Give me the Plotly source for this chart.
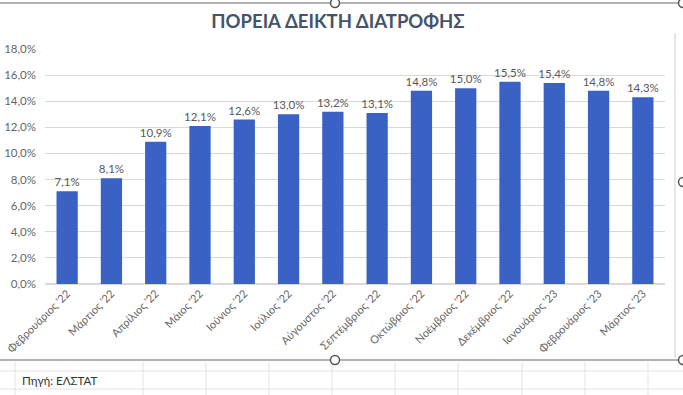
import plotly.graph_objects as go

categories = ["Φεβρουάριος '22", "Μάρτιος '22", "Απρίλιος '22", "Μάιος '22", "Ιούνιος '22",
              "Ιούλιος '22", "Αύγουστος '22", "Σεπτέμβριος '22", "Οκτώβριος '22", "Νοέμβριος '22",
              "Δεκέμβριος '22", "Ιανουάριος '23", "Φεβρουάριος '23", "Μάρτιος '23"]
values = [7.1, 8.1, 10.9, 12.1, 12.6, 13.0, 13.2, 13.1, 14.8, 15.0, 15.5, 15.4, 14.8, 14.3]
y_ticks = [0, 2, 4, 6, 8, 10, 12, 14, 16, 18]
y_ticktext = [f"{v:.1f}%".replace(".", ",") for v in y_ticks]

W, H = 683, 395
L, R, T, B = 45, 18, 49, 111
pw, ph = W - L - R, H - T - B

def px(x):
    return (x - L) / pw

def py(y):
    return (H - B - y) / ph

fig = go.Figure()
fig.add_trace(go.Bar(
    x=categories, y=values,
    marker=dict(color="#3a62c4", line=dict(width=0)),
    width=0.48,
    text=values,
    texttemplate="%{y:.1f}%",
    textposition="outside",
    constraintext="none",
    textfont=dict(family="Lato", size=11.5, color="#595959"),
    cliponaxis=False,
))

shapes = []
line_gray = "#9a9a9a"
shapes.append(dict(type="line", xref="paper", yref="paper", x0=px(0), x1=px(683), y0=py(3), y1=py(3),
                   line=dict(color=line_gray, width=1.5)))
shapes.append(dict(type="line", xref="paper", yref="paper", x0=px(0), x1=px(683), y0=py(360), y1=py(360),
                   line=dict(color=line_gray, width=1.5)))
shapes.append(dict(type="line", xref="paper", yref="paper", x0=px(675), x1=px(675), y0=py(33), y1=py(358),
                   line=dict(color="#e6e6e6", width=2)))
for yy in [371, 389]:
    shapes.append(dict(type="line", xref="paper", yref="paper", x0=px(0), x1=px(683), y0=py(yy), y1=py(yy),
                       line=dict(color="#e3e3e3", width=1)))
for xx in [15, 143, 206, 269, 332, 395, 458, 522, 585, 648]:
    shapes.append(dict(type="line", xref="paper", yref="paper", x0=px(xx), x1=px(xx), y0=py(362), y1=py(395),
                       line=dict(color="#e3e3e3", width=1)))
for (cx, cy) in [(335, 3), (683, 3), (335, 360), (683, 360), (683, 182)]:
    r = 4.5
    shapes.append(dict(type="circle", xref="paper", yref="paper",
                       x0=px(cx - r), x1=px(cx + r), y0=py(cy + r), y1=py(cy - r),
                       line=dict(color="#555555", width=1.5), fillcolor="white"))

fig.update_layout(
    width=W, height=H,
    margin=dict(l=L, r=R, t=T, b=B, autoexpand=False),
    paper_bgcolor="white", plot_bgcolor="white",
    separators=",.",
    showlegend=False,
    title=dict(text="<b>ΠΟΡΕΙΑ ΔΕΙΚΤΗ ΔΙΑΤΡΟΦΗΣ</b>", x=338 / W, xanchor="center",
               y=1 - 22 / H, yanchor="middle",
               font=dict(family="Lato", size=18.5, color="#44546a")),
    font=dict(family="Lato", color="#595959"),
    shapes=shapes,
    annotations=[dict(text="Πηγή: ΕΛΣΤΑΤ", xref="paper", yref="paper", x=px(20), y=py(380),
                      xanchor="left", yanchor="middle", showarrow=False,
                      font=dict(family="Lato", size=11.5, color="#333333"))],
)
fig.update_xaxes(
    type="category", range=[-0.5, len(categories) - 0.5], automargin=False,
    tickangle=-45, tickfont=dict(family="Lato", size=11, color="#666666"),
    showgrid=False, showline=False, ticks="",
)
fig.update_yaxes(
    range=[0, 18], tickmode="array", tickvals=y_ticks, ticktext=y_ticktext, automargin=False,
    tickfont=dict(family="Lato", size=11.5, color="#666666"),
    showgrid=True, gridcolor="#d9d9d9", gridwidth=1, zeroline=True, zerolinecolor="#d9d9d9",
    showline=False, ticks="", ticklabelstandoff=8,
)

fig.write_html("out.html", config={"displayModeBar": False},
               post_script="document.body.style.margin='0';document.body.style.overflow='hidden';")
